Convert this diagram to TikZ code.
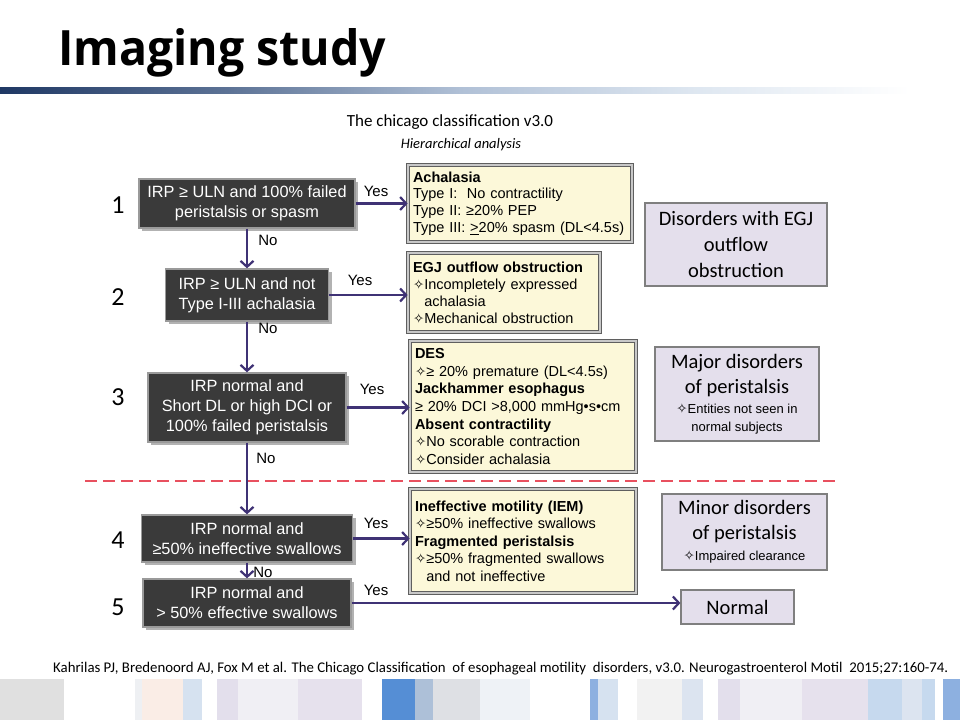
\documentclass[tikz,border=0pt]{standalone}
\usepackage{fontspec}
\setmainfont{Liberation Sans}
\newfontfamily\calfont{Carlito}
\newfontfamily\titlefont{Open Sans}
\newfontfamily\symfont{DejaVu Sans}
\usetikzlibrary{arrows.meta,shadows}
\newcommand{\dst}{{\symfont\fontsize{13.5}{13.5}\selectfont ✧}}
\definecolor{darkbox}{HTML}{3A3A3A}
\definecolor{dboxline}{HTML}{9A9A9A}
\definecolor{cream}{HTML}{FCF8D9}
\definecolor{ylborder}{HTML}{5F5F5F}
\definecolor{ylband}{HTML}{C8C8C8}
\definecolor{lav}{HTML}{E4DFEC}
\definecolor{lavborder}{HTML}{7F7F7F}
\definecolor{arrowc}{HTML}{3F3275}
\definecolor{redd}{HTML}{E8505F}
\definecolor{g0}{HTML}{1F3864}
\definecolor{g1}{HTML}{5D7396}
\definecolor{g2}{HTML}{B0C0D6}
\definecolor{g3}{HTML}{DDE6F0}
\definecolor{s1}{HTML}{E0E0E0}
\definecolor{s2}{HTML}{EEF0F3}
\definecolor{s3}{HTML}{FAEDE6}
\definecolor{s4}{HTML}{D6E2F0}
\definecolor{s5}{HTML}{E3DFEC}
\definecolor{s6}{HTML}{F0EFF4}
\definecolor{s7}{HTML}{E6E1ED}
\definecolor{s8}{HTML}{558ED5}
\definecolor{s9}{HTML}{ADC0D8}
\definecolor{s10}{HTML}{DEE0E4}
\definecolor{s11}{HTML}{EEF2F6}
\definecolor{s12}{HTML}{8DB0E0}
\definecolor{s13}{HTML}{F2F2F2}
\definecolor{s14}{HTML}{DCE4F0}
\definecolor{s15}{HTML}{C6D9EE}
\begin{document}
\begin{tikzpicture}[x=1pt,y=-1pt,
 dbox/.style={fill=darkbox, draw=dboxline, line width=1.3pt, text=white, align=center, inner sep=0pt,
   font=\fontsize{16.3}{20}\selectfont,
   drop shadow={shadow xshift=3pt, shadow yshift=-3pt, fill=black, opacity=0.3}},
 ybox/.style={fill=cream, draw=ylborder, double=ylband, double distance=1.8pt, line width=0.8pt,
   align=left, inner xsep=5pt, inner ysep=0pt,
   drop shadow={shadow xshift=2pt, shadow yshift=-2pt, fill=black, opacity=0.2}},
 pbox/.style={fill=lav, draw=lavborder, line width=1.2pt, align=center, inner sep=0pt,
   font=\calfont\fontsize{20.5}{25}\selectfont},
 numlbl/.style={font=\calfont\fontsize{26}{26}\selectfont, inner sep=0pt},
 lbl/.style={font=\fontsize{15}{15}\selectfont, inner sep=0pt},
 conn/.style={draw=arrowc, line width=2.2pt},
 arr/.style={conn, -{Straight Barb[length=6pt,width=13pt]}},
 reddash/.style={draw=redd, line width=2.2pt, dash pattern=on 12pt off 6pt}
]
\useasboundingbox (0,0) rectangle (960,720);
\fill[white] (0,0) rectangle (960,720);

% title
\node[anchor=base west, inner sep=0pt] (title) at (58,65)
  {\resizebox{328pt}{37pt}{\titlefont\bfseries Imaging study}};
% gradient bar
\shade[left color=g0, right color=g1] (0,87) rectangle (230,93);
\shade[left color=g1, right color=g2] (229.5,87) rectangle (460,93);
\shade[left color=g2, right color=g3] (459.5,87) rectangle (690,93);
\shade[left color=g3, right color=white] (689.5,87) rectangle (910,93);

% chart title
\node[font=\calfont\fontsize{17}{17}\selectfont, inner sep=0pt] (ct) at (450,122) {The chicago classification v3.0};
\node[font=\calfont\itshape\fontsize{14.5}{14.5}\selectfont, inner sep=0pt] (ct2) at (461,145) {Hierarchical analysis};

% red dashed separator
\coordinate (dl) at (85,481);
\coordinate (dr) at (840,481);
\draw[reddash] (dl) -- (dr);

% decision boxes
\node[dbox, minimum width=216pt, minimum height=49pt] (B1) at (247,203.5) {IRP ≥ ULN and 100\% failed\\peristalsis or spasm};
\node[dbox, minimum width=163pt, minimum height=52pt] (B2) at (247,295) {IRP ≥ ULN and not\\Type I-III achalasia};
\node[dbox, minimum width=198pt, minimum height=69pt] (B3) at (247,407.5) {IRP normal and\\Short DL or high DCI or\\100\% failed peristalsis};
\node[dbox, minimum width=211pt, minimum height=47pt] (B4) at (247,538.5) {IRP normal and\\≥50\% ineffective swallows};
\node[dbox, minimum width=208pt, minimum height=48pt] (B5) at (247,603) {IRP normal and\\> 50\% effective swallows};

% numbers
\node[numlbl] (n1) at (118,205) {1};
\node[numlbl] (n2) at (118,297) {2};
\node[numlbl] (n3) at (118,397) {3};
\node[numlbl] (n4) at (118,540) {4};
\node[numlbl] (n5) at (118,607) {5};

% result boxes
\node[ybox, text width=214pt, minimum height=77pt, font=\fontsize{14.5}{16.7}\selectfont] (Y1) at (520,203.5)
 {\textbf{Achalasia}\\Type I:\ \ No contractility\\Type II: ≥20\% PEP\\Type III: \underline{>}20\% spasm (DL<4.5s)};
\node[ybox, text width=182pt, minimum height=79pt, font=\fontsize{14.5}{17}\selectfont] (Y2) at (504,292.5)
 {\textbf{EGJ outflow obstruction}\\\dst Incompletely expressed\\\phantom{\dst}achalasia\\\dst Mechanical obstruction};
\node[ybox, text width=216pt, minimum height=131pt, font=\fontsize{14.5}{17.7}\selectfont] (Y3) at (523,406.5)
 {\textbf{DES}\\\dst≥ 20\% premature (DL<4.5s)\\\textbf{Jackhammer esophagus}\\≥ 20\% DCI >8,000 mmHg•s•cm\\\textbf{Absent contractility}\\\dst No scorable contraction\\\dst Consider achalasia};
\node[ybox, text width=216pt, minimum height=104pt, font=\fontsize{14.5}{17.5}\selectfont] (Y4) at (523,541)
 {\textbf{Ineffective motility (IEM)}\\\dst≥50\% ineffective swallows\\\textbf{Fragmented peristalsis}\\\dst≥50\% fragmented swallows\\\phantom{\dst}and not ineffective};

% category boxes
\node[pbox, minimum width=182pt, minimum height=83pt] (P1) at (736,244.5) {Disorders with EGJ\\[1pt]outflow\\[1pt]obstruction};
\node[pbox, minimum width=164pt, minimum height=94pt] (P2) at (737,394) {Major disorders\\of peristalsis\\[-5pt]{\rmfamily\fontsize{13}{13}\selectfont\dst Entities not seen in}\\[-7pt]{\rmfamily\fontsize{13}{13}\selectfont normal subjects}};
\node[pbox, minimum width=165pt, minimum height=76pt] (P3) at (744.5,532) {Minor disorders\\of peristalsis\\[-4pt]{\rmfamily\fontsize{13}{13}\selectfont\dst Impaired clearance}};
\node[pbox, minimum width=113pt, minimum height=34pt] (N) at (737.5,607) {Normal};

% connectors
\draw[arr] (B1) -- (B2);
\draw[arr] (B2) -- (B3);
\draw[arr] (B3) -- (B4);
\draw[arr] (B4) -- (B5);
\draw[arr] (B1.east) -- (B1.east -| Y1.west);
\draw[arr] (B2.east) -- (B2.east -| Y2.west);
\draw[arr] (B3.east) -- (B3.east -| Y3.west);
\draw[arr] (B4.east) -- (B4.east -| Y4.west);
\draw[arr] (B5.east) -- (B5.east -| N.west);

% labels
\node[lbl] (yes1) at (376,191) {Yes};
\node[lbl] (yes2) at (360,280) {Yes};
\node[lbl] (yes3) at (372,389) {Yes};
\node[lbl] (yes4) at (376,523) {Yes};
\node[lbl] (yes5) at (376,590) {Yes};
\node[lbl] (no1) at (268,240) {No};
\node[lbl] (no2) at (268,328) {No};
\node[lbl] (no3) at (266,458) {No};
\node[lbl] (no4) at (263,572) {No};

% citation
\node[anchor=base west, inner sep=0pt] (cite) at (53,672)
  {\resizebox{895pt}{!}{\calfont\fontsize{12}{12}\selectfont Kahrilas PJ, Bredenoord AJ, Fox M et al. The Chicago Classification\ \ of esophageal motility\ \ disorders, v3.0. Neurogastroenterol Motil\ \ 2015;27:160-74.}};

% bottom stripes
\fill[s1] (0,679) rectangle (64,720);
\fill[s2] (135,679) rectangle (142,720);
\fill[s3] (142,679) rectangle (183,720);
\fill[s4] (183,679) rectangle (202,720);
\fill[s5] (217,679) rectangle (238,720);
\fill[s6] (238,679) rectangle (298,720);
\fill[s7] (298,679) rectangle (362,720);
\fill[s8] (382,679) rectangle (415,720);
\fill[s9] (415,679) rectangle (433,720);
\fill[s10] (433,679) rectangle (480,720);
\fill[s11] (480,679) rectangle (530,720);
\fill[s12] (590,679) rectangle (598,720);
\fill[s4] (598,679) rectangle (618,720);
\fill[s13] (637,679) rectangle (682,720);
\fill[s14] (682,679) rectangle (703,720);
\fill[s5] (718,679) rectangle (740,720);
\fill[s6] (740,679) rectangle (802,720);
\fill[s7] (802,679) rectangle (868,720);
\fill[s15] (868,679) rectangle (902,720);
\fill[s14] (902,679) rectangle (922,720);
\fill[s15] (922,679) rectangle (935,720);
\fill[s12] (943,679) rectangle (960,720);
\end{tikzpicture}
\end{document}
